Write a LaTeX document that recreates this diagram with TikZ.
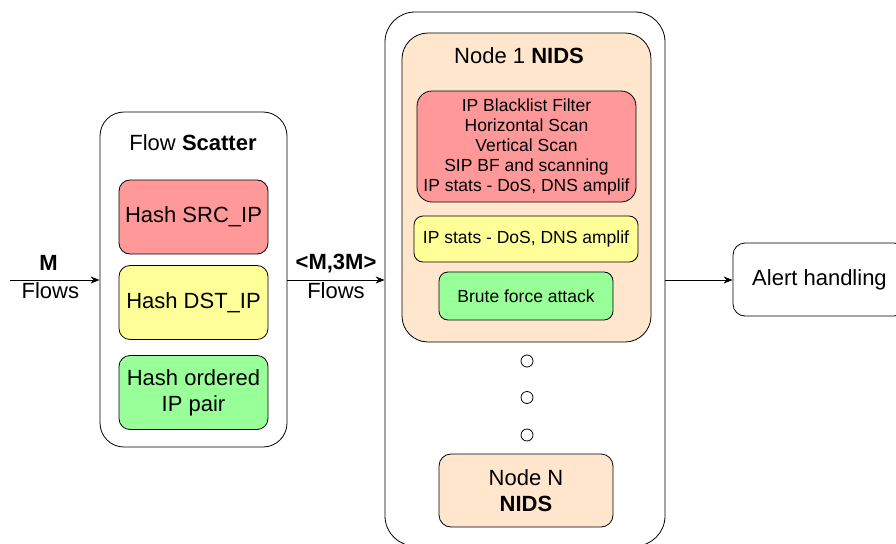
\documentclass[tikz,border=0pt]{standalone}
\usepackage{fontspec}
\setmainfont{Liberation Sans}
\usetikzlibrary{arrows.meta}

\newcommand{\largetxt}{\fontsize{22}{26}\selectfont}
\newcommand{\smalltxt}{\fontsize{17.5}{20}\selectfont}

\definecolor{hashred}{HTML}{FF9999}
\definecolor{hashyellow}{HTML}{FFFF99}
\definecolor{hashgreen}{HTML}{99FF99}
\definecolor{nidspeach}{HTML}{FFE6CC}

\begin{document}
\begin{tikzpicture}[x=1pt, y=-1pt, line width=0.8pt, >={Stealth[length=9pt, width=7pt]},
        outer/.style = {draw, fill=white, rounded corners=24pt, inner sep=0pt},
        hash/.style = {draw, rounded corners=11pt, minimum width=149pt, minimum height=74pt, align=center, inner sep=0pt, font=\largetxt},
        rule/.style = {draw, rounded corners=9pt, align=center, inner sep=0pt, font=\smalltxt},
        nids/.style = {draw, fill=nidspeach, rounded corners=12pt, minimum width=174pt, minimum height=73pt, align=center, inner sep=0pt, font=\largetxt},
        dot/.style = {draw, circle, fill=white, minimum size=12pt, inner sep=0pt},
        lbl/.style = {font=\largetxt, inner sep=2pt}]

        \useasboundingbox (0,0) rectangle (896,543);

        % flow scatter
        \node[outer, minimum width=187pt, minimum height=335pt] (0) at (193.5,279.5) {};
        \node[lbl] (t0) at (193,143) {Flow \textbf{Scatter}};
        \node[hash, fill=hashred] (2) at (193.5,217) {Hash SRC\_IP};
        \node[hash, fill=hashyellow] (3) at (193.5,302.5) {Hash DST\_IP};
        \node[hash, fill=hashgreen] (4) at (193.5,392.5) {Hash ordered\\IP pair};

        % NIDS nodes
        \node[outer, rounded corners=30pt, minimum width=280pt, minimum height=534pt] (1) at (525,279) {};
        \node[draw, fill=nidspeach, rounded corners=26pt, minimum width=249pt, minimum height=309pt, inner sep=0pt] (5) at (526.5,187.5) {};
        \node[lbl] (t5) at (519,56) {Node 1 \textbf{NIDS}};
        \node[rule, fill=hashred, rounded corners=15pt, minimum width=219pt, minimum height=111pt] (6) at (526.5,146.5)
            {IP Blacklist Filter\\Horizontal Scan\\Vertical Scan\\SIP BF and scanning\\IP stats - DoS, DNS amplif};
        \node[rule, fill=hashyellow, minimum width=224pt, minimum height=46pt] (7) at (526,239) {IP stats - DoS, DNS amplif};
        \node[rule, fill=hashgreen, minimum width=174pt, minimum height=48pt] (8) at (526,296) {Brute force attack};
        \node[dot] (9) at (527,361) {};
        \node[dot] (10) at (527,397.5) {};
        \node[dot] (11) at (527,435) {};
        \node[nids] (12) at (526,490.5) {Node N\\\textbf{NIDS}};

        % alerts
        \node[draw, rounded corners=12pt, minimum width=173pt, minimum height=73pt, inner sep=0pt, font=\largetxt] (13) at (819.5,279.5) {Alert handling};

        \coordinate (in) at (10,280);
        \draw[->] (in) -- node[lbl, pos=0.43, above, yshift=7pt] {\textbf{M}} node[lbl, pos=0.45, below] {Flows} (0.west |- in);
        \draw[->] (0.east |- in) -- node[lbl, above, yshift=5pt] {\textbf{<M,3M>}} node[lbl, below] {Flows} (1.west |- in);
        \draw[->] (1.east |- in) -- (13.west |- in);

    \end{tikzpicture}
\end{document}
